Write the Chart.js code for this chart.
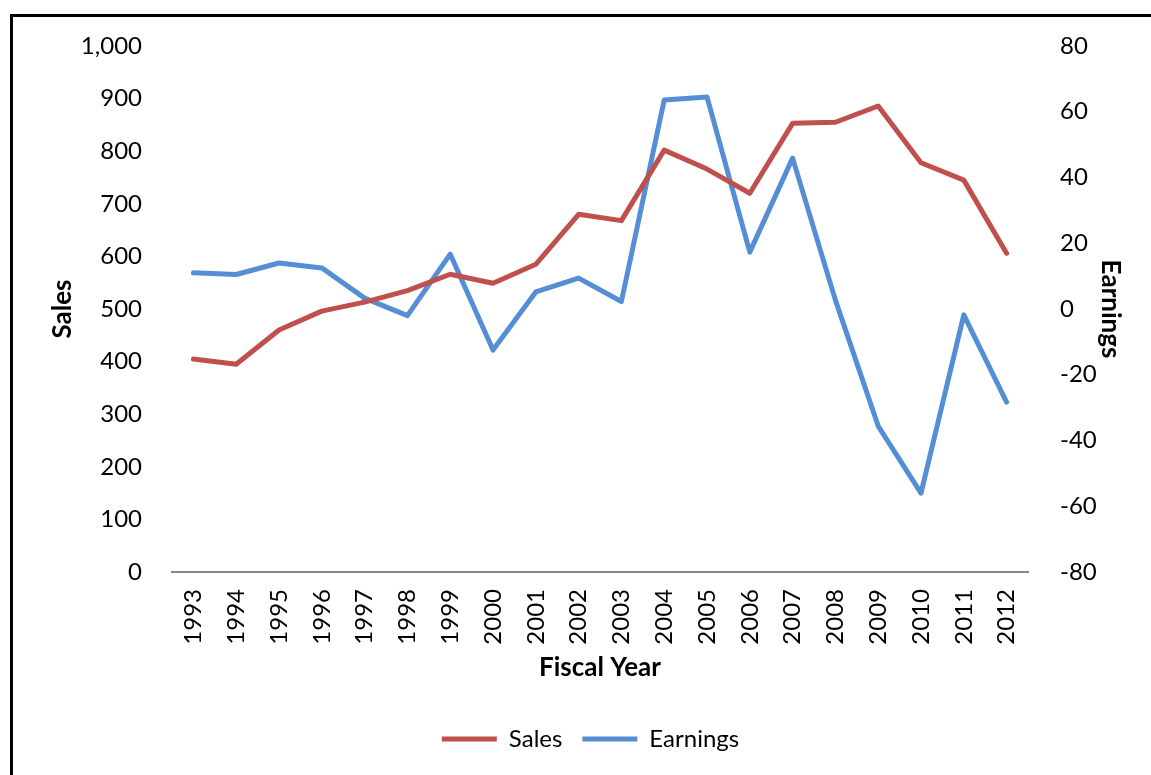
<!DOCTYPE html>
<html>
<head>
<meta charset="utf-8">
<script src="https://cdn.jsdelivr.net/npm/chart.js@4/dist/chart.umd.min.js"></script>
<style>
  html, body { margin: 0; padding: 0; background: #fff; overflow: hidden; }
  #wrap { position: relative; width: 1151px; height: 775px; }
  #frame { position: absolute; left: 10px; top: 14px; width: 1200px; height: 800px; border: 3px solid #000; pointer-events: none; }
</style>
</head>
<body>
<div id="wrap">
  <canvas id="chart" width="1151" height="775"></canvas>
  <div id="frame"></div>
</div>
<script>
const years = ['1993', '1994', '1995', '1996', '1997', '1998', '1999', '2000', '2001', '2002',
               '2003', '2004', '2005', '2006', '2007', '2008', '2009', '2010', '2011', '2012'];
const sales = [405, 395, 460, 496, 513, 535, 566, 549, 585, 680,
               668, 802, 766, 720, 853, 855, 886, 778, 745, 606];
const earnings = [11, 10.5, 14, 12.5, 3.3, -2, 16.7, -12.5, 5.2, 9.4,
                  2.3, 63.6, 64.5, 17.3, 45.9, 2.7, -35.6, -56, -1.8, -28.3];
const salesTicks = [0, 1000, 100];     // min, max, step
const earningsTicks = [-80, 80, 20];

const font = 'Lato, "Open Sans", sans-serif';
const tickFont = { family: font, size: 24 };
const titleFont = { family: font, size: 26, weight: 'bold' };

new Chart(document.getElementById('chart'), {
  type: 'line',
  data: {
    labels: years,
    datasets: [
      { label: 'Sales', data: sales, yAxisID: 'y', borderColor: '#C0504D', backgroundColor: '#C0504D',
        borderWidth: 5, pointRadius: 0, borderCapStyle: 'round', borderJoinStyle: 'round', tension: 0 },
      { label: 'Earnings', data: earnings, yAxisID: 'y1', borderColor: '#558ED5', backgroundColor: '#558ED5',
        borderWidth: 5, pointRadius: 0, borderCapStyle: 'round', borderJoinStyle: 'round', tension: 0 },
    ],
  },
  options: {
    responsive: false,
    animation: false,
    layout: { padding: { left: 30, right: 0, top: 46, bottom: 14 } },
    plugins: {
      tooltip: { enabled: false },
      legend: {
        position: 'bottom',
        labels: {
          usePointStyle: true, pointStyle: 'line', pointStyleWidth: 55,
          padding: 20, color: '#000', font: tickFont,
        },
      },
    },
    scales: {
      x: {
        offset: true,
        grid: { display: false },
        border: { display: true, color: '#868686', width: 2 },
        ticks: { autoSkip: false, minRotation: 90, maxRotation: 90, padding: 9, color: '#000', font: tickFont },
        title: { display: true, text: 'Fiscal Year', color: '#000', font: titleFont, padding: { top: 0, bottom: 24 } },
        afterFit: s => { s.height = 135; },
      },
      y: {
        position: 'left',
        min: salesTicks[0], max: salesTicks[1],
        grid: { display: false },
        border: { display: false },
        ticks: { stepSize: salesTicks[2], padding: 22, color: '#000', font: tickFont,
                 callback: v => v.toLocaleString('en-US') },
        title: { display: true, text: 'Sales', color: '#000', font: titleFont, padding: { top: 17, bottom: 0 } },
        afterFit: s => { s.width = 142; },
      },
      y1: {
        position: 'right',
        min: earningsTicks[0], max: earningsTicks[1],
        grid: { display: false },
        border: { display: false },
        ticks: { stepSize: earningsTicks[2], padding: 24, color: '#000', font: tickFont },
        title: { display: true, text: 'Earnings', color: '#000', font: titleFont, padding: { top: 25, bottom: 0 } },
        afterFit: s => { s.width = 123; },
      },
    },
  },
});
</script>
</body>
</html>
